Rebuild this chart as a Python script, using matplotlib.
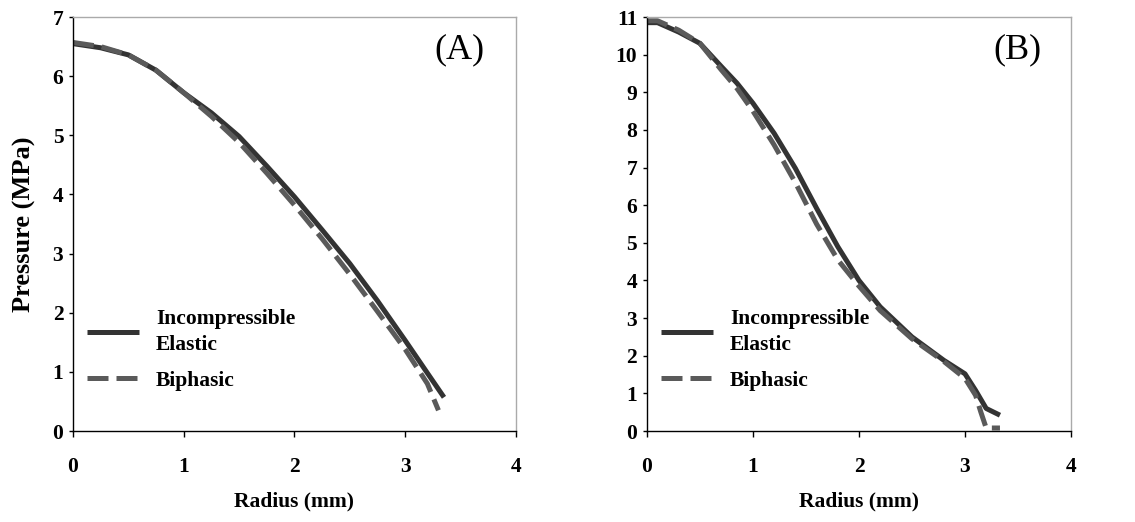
import matplotlib.pyplot as plt
from matplotlib.lines import Line2D

# Panel A
radius_a = [0.0, 0.25, 0.5, 0.75, 1.0, 1.25, 1.5, 1.75, 2.0, 2.25, 2.5, 2.75, 3.0, 3.2, 3.35]
elastic_a = [6.55, 6.48, 6.36, 6.1, 5.72, 5.38, 4.98, 4.48, 3.96, 3.4, 2.83, 2.2, 1.53, 0.98, 0.57]
radius_a_bi = [0.0, 0.25, 0.5, 0.75, 1.0, 1.25, 1.5, 1.75, 2.0, 2.25, 2.5, 2.75, 3.0, 3.2, 3.3]
biphasic_a = [6.57, 6.5, 6.36, 6.1, 5.72, 5.32, 4.88, 4.36, 3.82, 3.25, 2.65, 2.02, 1.38, 0.8, 0.35]

# Panel B
radius_b = [0.0, 0.1, 0.3, 0.5, 0.7, 0.85, 1.0, 1.2, 1.4, 1.6, 1.8, 2.0, 2.2, 2.5, 2.8, 3.0, 3.1, 3.2, 3.33]
elastic_b = [10.85, 10.85, 10.6, 10.3, 9.69, 9.24, 8.71, 7.91, 6.98, 5.92, 4.9, 4.0, 3.3, 2.5, 1.88, 1.52, 1.08, 0.6, 0.42]
radius_b_bi = [0.0, 0.1, 0.3, 0.5, 0.7, 0.85, 1.0, 1.2, 1.4, 1.6, 1.8, 2.0, 2.2, 2.5, 2.8, 3.0, 3.1, 3.15, 3.2, 3.33]
biphasic_b = [10.9, 10.9, 10.65, 10.3, 9.6, 9.1, 8.5, 7.6, 6.6, 5.5, 4.55, 3.85, 3.2, 2.45, 1.85, 1.4, 0.95, 0.5, 0.08, 0.08]

labels = ["Incompressible\nElastic", "Biphasic"]

plt.rcParams["font.family"] = "Liberation Serif"
plt.rcParams["font.weight"] = "bold"

solid_kw = dict(color="#333333", lw=3.6, solid_capstyle="butt", solid_joinstyle="round")
dash_kw = dict(color="#5a5a5a", lw=3.6, dashes=(4.2, 1.6), dash_capstyle="butt")

fig = plt.figure(figsize=(11.35, 5.22), dpi=100)
ax_a = fig.add_axes([0.0643, 0.1743, 0.3903, 0.7931])
ax_b = fig.add_axes([0.5700, 0.1743, 0.3736, 0.7931])


def style_axis(ax, ymax, tag):
    ax.set_xlim(0, 4)
    ax.set_ylim(0, ymax)
    ax.set_xticks(range(0, 5))
    ax.set_yticks(range(0, ymax + 1))
    for side in ["top", "right"]:
        ax.spines[side].set_color("#aaaaaa")
        ax.spines[side].set_linewidth(1.0)
    for side in ["left", "bottom"]:
        ax.spines[side].set_color("black")
        ax.spines[side].set_linewidth(1.0)
    ax.tick_params(axis="x", direction="out", length=4, width=1, pad=15, labelsize=15.5)
    ax.tick_params(axis="y", direction="out", length=3, width=1, pad=4, labelsize=15.5)
    ax.set_xlabel("Radius (mm)", fontsize=15.5, fontweight="bold", labelpad=10)
    ax.text(0.93, 0.92, tag, transform=ax.transAxes, ha="right", va="center",
            fontsize=26, fontweight="normal")
    handles = [Line2D([], [], **solid_kw), Line2D([], [], **dash_kw)]
    x0 = 14 / ax.get_window_extent().width
    leg = ax.legend(handles, labels, loc="lower left", bbox_to_anchor=(x0, 0.097),
                    frameon=False, handlelength=2.4, handletextpad=0.8,
                    borderpad=0, borderaxespad=0,
                    labelspacing=0.75, prop={"weight": "bold", "size": 15.5})
    for t in leg.get_texts():
        t.set_linespacing(1.35)


ax_a.plot(radius_a, elastic_a, **solid_kw)
ax_a.plot(radius_a_bi, biphasic_a, **dash_kw)
style_axis(ax_a, 7, "(A)")
ax_a.set_ylabel("Pressure (MPa)", fontsize=19, fontweight="bold", labelpad=12)

ax_b.plot(radius_b, elastic_b, **solid_kw)
ax_b.plot(radius_b_bi, biphasic_b, clip_on=False, **dash_kw)
style_axis(ax_b, 11, "(B)")

fig.savefig("out.png", dpi=100)
